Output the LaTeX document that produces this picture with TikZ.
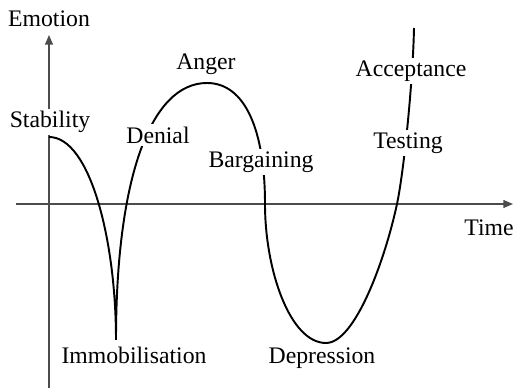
\documentclass[tikz,border=0pt]{standalone}
\usepackage{fontspec}
\setmainfont{Liberation Serif}
\usetikzlibrary{arrows.meta}
\tikzset{
  axis/.style={-{Triangle[length=5.5pt,width=4.5pt]},black!70,line width=0.8pt},
  curve/.style={black,line width=1.1pt},
  stage/.style={fill=white,inner sep=1.5pt,font=\fontsize{13.5}{16}\selectfont},
}
\begin{document}
\begin{tikzpicture}[x=0.02cm,y=-0.02cm]
  \useasboundingbox (0,0) rectangle (515,391);
  % axes
  \draw[axis] (49,388) -- (49,35);
  \draw[axis] (16,204) -- (513,204);
  % key points of the curve
  \coordinate (start) at (49,137);
  \coordinate (cusp) at (116,340);
  \coordinate (peak) at (207,83);
  \coordinate (fall) at (265,204);
  \coordinate (dip) at (326,343);
  \coordinate (rise) at (397,204);
  \coordinate (top) at (414,28);
  \draw[curve] (start) .. controls (90,137) and (116,240) .. (cusp)
    .. controls (116,180) and (150,83) .. (peak)
    .. controls (245,83) and (265,130) .. (fall)
    .. controls (265,270) and (290,343) .. (dip)
    .. controls (355,343) and (385,260) .. (rise)
    .. controls (404,171) and (413,80) .. (top);
  % labels
  \node[stage] (emotion) at (49,19) {Emotion};
  \node[stage] (stability) at (50,122) {Stability};
  \node[stage] (denial) at (158,135) {Denial};
  \node[stage] (anger) at (206,64) {Anger};
  \node[stage] (bargaining) at (261,162) {Bargaining};
  \node[stage] (acceptance) at (411,71) {Acceptance};
  \node[stage] (testing) at (408,143) {Testing};
  \node[stage] (time) at (489,228) {Time};
  \node[stage] (immobilisation) at (134,355) {Immobilisation};
  \node[stage] (depression) at (322,358) {Depression};
\end{tikzpicture}
\end{document}
